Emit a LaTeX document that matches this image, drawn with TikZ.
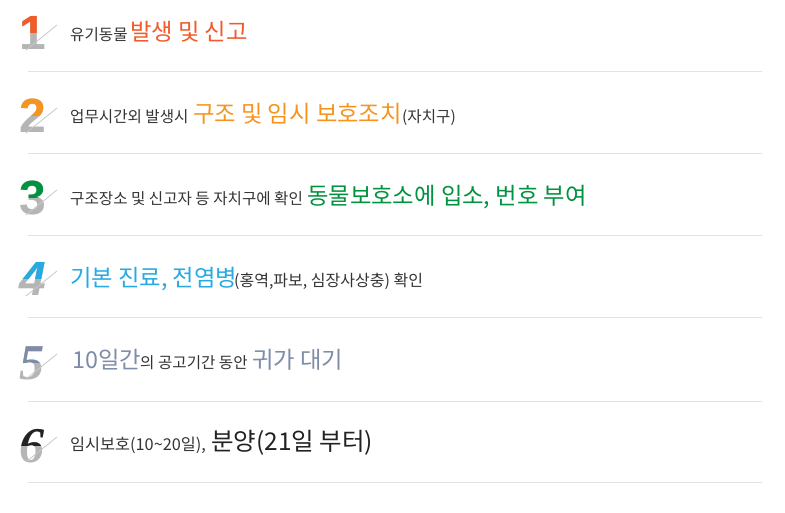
\documentclass[tikz,border=0pt]{standalone}
\usepackage{fontspec}
\setmainfont{Noto Sans CJK KR}
\newfontfamily\digsans{Liberation Sans Bold}
\newfontfamily\digsansit{Liberation Sans Bold Italic}
\newfontfamily\digserif{Liberation Serif Bold Italic}
\definecolor{cone}{HTML}{F15A29}
\definecolor{ctwo}{HTML}{F7941D}
\definecolor{cthree}{HTML}{00923F}
\definecolor{cfour}{HTML}{27AAE1}
\definecolor{cfive}{HTML}{7E8CA8}
\definecolor{csix}{HTML}{222222}
\definecolor{txt}{HTML}{333333}
\definecolor{diggray}{HTML}{B5B5B5}
\definecolor{sepgray}{HTML}{E3E3E3}
\definecolor{slashgray}{HTML}{C8C8C8}
\newcommand{\stepdigit}[5]{%
  % #1 name, #2 bottom y, #3 colour, #4 font, #5 digit
  \node[digitnode, text=diggray, font=#4] (#1) at (19,#2) {#5};
  \begin{scope}
    \clip (0,#2-60) rectangle (70,#2-17);
    \node[digitnode, text=#3, font=#4] (#1c) at (19,#2) {#5};
  \end{scope}
  \coordinate (#1a) at (26,#2);
  \coordinate (#1b) at (57,#2-25);
  \draw[slash] (#1a) -- (#1b);
}
\begin{document}
\begin{tikzpicture}[x=1pt,y=-1pt,
  digitnode/.style={anchor=base west, inner sep=0pt},
  small/.style={anchor=base west, inner sep=0pt, text=txt, font=\fontsize{15.6}{18}\selectfont},
  big/.style={anchor=base west, inner sep=0pt, font=\fontsize{23.3}{26}\selectfont},
  sep/.style={draw=sepgray, line width=1pt},
  slash/.style={draw=slashgray, line width=0.8pt}]
\useasboundingbox (0,0) rectangle (785,513);
\fill[white] (0,0) rectangle (785,513);
% separators
\foreach \i/\y in {1/72,2/154,3/236,4/318,5/401,6/482}{
  \coordinate (sa\i) at (28,\y);
  \coordinate (sb\i) at (762,\y);
  \draw[sep] (sa\i) -- (sb\i);
}
% digits
\stepdigit{d1}{50}{cone}{\fontsize{48}{48}\digsans}{1}
\stepdigit{d2}{133}{ctwo}{\fontsize{48}{48}\digsans}{2}
\stepdigit{d3}{215}{cthree}{\fontsize{48}{48}\digsans}{3}
\stepdigit{d4}{296}{cfour}{\fontsize{48}{48}\digsansit}{4}
\stepdigit{d5}{379}{cfive}{\fontsize{50}{50}\digserif}{5}
\stepdigit{d6}{462}{csix}{\fontsize{50}{50}\digserif}{6}
% row 1
\node[small] (r1a) at (70,40.5) {유기동물};
\node[big, text=cone] (r1b) at (130,40.5) {발생 및 신고};
% row 2
\node[small] (r2a) at (70,122.5) {업무시간외 발생시};
\node[big, text=ctwo] (r2b) at (193,122.5) {구조 및 임시 보호조치};
\node[small] (r2c) at (402,122.5) {(자치구)};
% row 3
\node[small] (r3a) at (70,204.5) {구조장소 및 신고자 등 자치구에 확인};
\node[big, text=cthree] (r3b) at (307,204.5) {동물보호소에 입소, 번호 부여};
% row 4
\node[big, text=cfour] (r4a) at (70,286.5) {기본 진료, 전염병};
\node[small, font=\fontsize{16}{18}\selectfont] (r4b) at (234,286.5) {(홍역,파보, 심장사상충) 확인};
% row 5
\node[big, text=cfive] (r5a) at (72,368.5) {10일간};
\node[small] (r5b) at (140,368.5) {의 공고기간 동안};
\node[big, text=cfive] (r5c) at (252,368.5) {귀가 대기};
% row 6
\node[small, font=\fontsize{16.3}{18}\selectfont] (r6a) at (70,450.5) {임시보호(10\textasciitilde20일),};
\node[big, text=csix, font=\fontsize{24.5}{27}\selectfont] (r6b) at (211,450.5) {분양(21일 부터)};
\end{tikzpicture}
\end{document}
